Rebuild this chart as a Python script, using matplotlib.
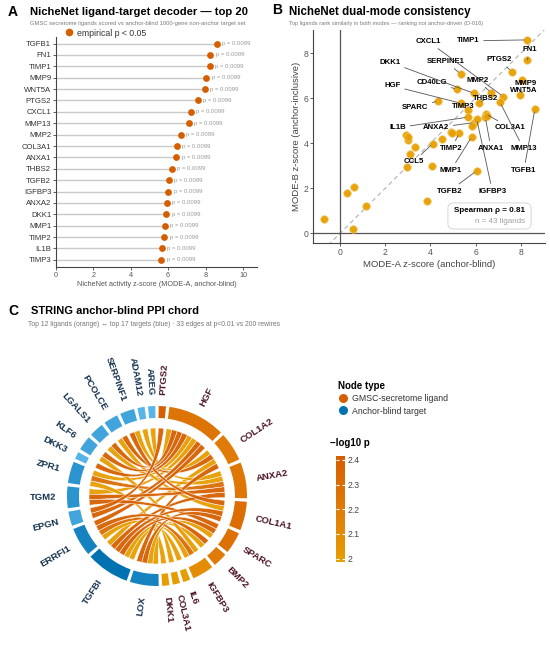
import numpy as np
import matplotlib.pyplot as plt
from matplotlib.lines import Line2D
from matplotlib.patches import Wedge, Polygon, FancyBboxPatch
from matplotlib.colors import LinearSegmentedColormap, Normalize, to_rgb
from matplotlib.cm import ScalarMappable

plt.rcParams['font.family'] = ['Liberation Sans', 'DejaVu Sans']

# ---- panel A data: top 20 ligands (MODE-A z-score, empirical p)
ligands_A = ['TGFB1', 'FN1', 'TIMP1', 'MMP9', 'WNT5A', 'PTGS2', 'CXCL1', 'MMP13', 'MMP2', 'COL3A1',
             'ANXA1', 'THBS2', 'TGFB2', 'IGFBP3', 'ANXA2', 'DKK1', 'MMP1', 'TIMP2', 'IL1B', 'TIMP3']
zscore_A = [8.60, 8.25, 8.22, 8.02, 7.95, 7.58, 7.20, 7.10, 6.67, 6.45,
            6.43, 6.19, 6.03, 6.00, 5.92, 5.88, 5.81, 5.78, 5.65, 5.63]
pval_A = [0.0099, 0.0099, 0.0099, 0.0099, 0.0099, 0.0099, 0.0099, 0.0099, 0.0099, 0.0099,
          0.0099, 0.0099, 0.0099, 0.0099, 0.0099, 0.0099, 0.0099, 0.0099, 0.0099, 0.0099]

# ---- panel B data: 43 ligands, MODE-A vs MODE-B z-score ('' = unlabelled)
names_B = ['TIMP1', 'FN1', 'PTGS2', 'MMP9', 'WNT5A', 'SERPINE1', 'CD40LG', 'CXCL1', 'MMP2', 'DKK1',
           'THBS2', 'HGF', 'SPARC', 'TIMP3', 'COL3A1', 'ANXA1', 'MMP13', 'TGFB1', 'IL1B', 'ANXA2',
           'IGFBP3', 'TIMP2', 'MMP1', 'CCL5', 'TGFB2',
           '', '', '', '', '', '', '', '', '', '', '', '', '', '', '', '', '', '']
modeA_B = [8.26, 8.29, 7.60, 8.04, 7.96, 5.34, 5.19, 7.23, 6.68, 5.92,
           6.15, 5.34, 4.35, 5.65, 6.46, 6.43, 7.08, 8.62, 5.65, 5.93,
           6.05, 5.27, 5.83, 4.10, 6.05,
           2.90, 2.99, 3.32, 3.11, 2.95, 4.09, 4.53, 4.90, 5.82, 3.86,
           0.32, 0.62, 1.15, -0.72, 0.59, 6.50, 4.95, 3.00]
modeB_B = [8.59, 7.70, 7.18, 6.81, 6.15, 7.08, 6.40, 6.07, 6.25, 6.22,
           5.80, 5.78, 5.88, 5.48, 5.30, 5.15, 5.82, 5.51, 5.16, 4.92,
           5.07, 4.44, 4.29, 3.98, 2.78,
           4.35, 4.15, 3.82, 3.53, 2.95, 2.99, 4.19, 4.52, 4.77, 1.45,
           1.78, 2.04, 1.23, 0.64, 0.20, 5.22, 4.45, 4.30]
spearman_rho = 0.81

# ---- panel C data: chord nodes and edges (-log10 p)
ligands_C = ['PTGS2', 'HGF', 'COL1A2', 'ANXA2', 'COL1A1', 'SPARC', 'BMP2', 'IGFBP3', 'IL6', 'COL3A1', 'DKK1']
targets_C = ['AREG', 'ADAM12', 'SERPINF1', 'PCOLCE', 'LGALS1', 'KLF6', 'DKK3', 'ZPR1', 'TGM2', 'EPGN',
             'ERRFI1', 'TGFBI', 'LOX']
edge_src = ['HGF', 'HGF', 'HGF', 'HGF', 'HGF', 'HGF', 'HGF', 'HGF',
            'COL1A2', 'COL1A2', 'COL1A2', 'COL1A2',
            'ANXA2', 'ANXA2', 'ANXA2', 'ANXA2', 'ANXA2',
            'COL1A1', 'COL1A1', 'COL1A1', 'COL1A1',
            'SPARC', 'SPARC', 'SPARC', 'BMP2', 'BMP2',
            'IGFBP3', 'IGFBP3', 'IGFBP3', 'IL6', 'COL3A1', 'DKK1', 'PTGS2']
edge_dst = ['ERRFI1', 'EPGN', 'AREG', 'KLF6', 'ZPR1', 'DKK3', 'TGM2', 'LGALS1',
            'LOX', 'TGFBI', 'PCOLCE', 'SERPINF1',
            'TGM2', 'LGALS1', 'TGFBI', 'ZPR1', 'ADAM12',
            'LOX', 'TGFBI', 'PCOLCE', 'SERPINF1',
            'TGFBI', 'LOX', 'TGM2', 'ERRFI1', 'TGFBI',
            'TGFBI', 'ERRFI1', 'KLF6', 'ERRFI1', 'LOX', 'ZPR1', 'EPGN']
edge_logp = [2.4, 2.4, 2.0, 2.4, 2.0, 2.4, 2.0, 2.4,
             2.4, 2.0, 2.4, 2.0,
             2.4, 2.0, 2.4, 2.3, 2.0,
             2.4, 2.4, 2.0, 2.4,
             2.4, 2.0, 2.4, 2.4, 2.0,
             2.0, 2.3, 2.0, 2.0, 2.0, 2.0, 2.4]

ORANGE = '#D55E00'
AMBER = '#E69F00'
BLUE = '#0072B2'
SKY = '#56B4E9'

W, H = 550, 649
fig = plt.figure(figsize=(5.5, 6.49), dpi=100)


def fx(px):
    return px / W


def fy(py):
    return 1 - py / H


def style_spines(ax):
    for s in ['top', 'right']:
        ax.spines[s].set_visible(False)
    for s in ['left', 'bottom']:
        ax.spines[s].set_color('#444444')
        ax.spines[s].set_linewidth(0.8)


# ================= panel A =================
axA = fig.add_axes([fx(56), fy(266.7), fx(201), 230 / H])
yA = np.arange(len(ligands_A))[::-1]
axA.hlines(yA, 0, zscore_A, color='#C9C9C9', lw=1.0, zorder=1)
axA.scatter(zscore_A, yA, s=24, color=ORANGE, zorder=3, linewidths=0)
for z, yy, p in zip(zscore_A, yA, pval_A):
    axA.text(z + 0.3, yy, f'p = {p:.4f}', fontsize=4.3, color='#9A9A9A', va='center')
axA.set_yticks(yA)
axA.set_yticklabels(ligands_A)
axA.set_xlim(0, 10.75)
axA.set_ylim(-0.6, 19.6)
axA.set_xticks([0, 2, 4, 6, 8, 10])
axA.tick_params(axis='y', labelsize=5.6, length=2, width=0.6, pad=1.5, colors='#444444', labelcolor='#333333')
axA.tick_params(axis='x', labelsize=5.2, length=2, width=0.6, pad=1.5, colors='#444444', labelcolor='#555555')
axA.set_xlabel('NicheNet activity z-score (MODE-A, anchor-blind)', fontsize=5.2, color='#555555', labelpad=2)
style_spines(axA)
leg_handle = Line2D([0], [0], marker='o', ls='none', markerfacecolor=ORANGE, markeredgewidth=0,
                    markersize=5.5, label='empirical p < 0.05')
axA.legend(handles=[leg_handle], loc='center left', bbox_to_anchor=(fx(65), fy(33)),
           bbox_transform=fig.transFigure, frameon=False, fontsize=6.3, handlelength=1.0,
           handletextpad=0.4, borderpad=0, borderaxespad=0, labelcolor='#333333')

fig.text(fx(8), fy(12), 'A', fontsize=10, fontweight='bold', va='center')
fig.text(fx(30), fy(12), 'NicheNet ligand-target decoder — top 20', fontsize=8.15, fontweight='bold', va='center')
fig.text(fx(30), fy(23), 'GMSC secretome ligands scored vs anchor-blind 1000-gene non-anchor target set',
         fontsize=4.2, color='#7A7A7A', va='center')

# ================= panel B =================
axB = fig.add_axes([fx(313.3), fy(243.3), fx(231.7), 213.3 / H])
axB.plot([-1.5, 9.5], [-1.5, 9.5], ls=(0, (4, 3)), color='#B0B0B0', lw=0.8, zorder=1)
axB.axhline(0, color='#555555', lw=0.9, zorder=1)
axB.axvline(0, color='#555555', lw=0.9, zorder=1)
axB.scatter(modeA_B, modeB_B, s=30, color=AMBER, edgecolors='#F7C76A', linewidths=0.5, zorder=3, alpha=0.95)
axB.set_xlim(-1.18, 9.07)
axB.set_ylim(-0.44, 9.03)
axB.set_xticks([0, 2, 4, 6, 8])
axB.set_yticks([0, 2, 4, 6, 8])
axB.tick_params(labelsize=6.2, length=2, width=0.6, pad=1.5, colors='#444444', labelcolor='#555555')
axB.set_xlabel('MODE-A z-score (anchor-blind)', fontsize=6.8, color='#444444', labelpad=2)
axB.set_ylabel('MODE-B z-score (anchor-inclusive)', fontsize=6.8, color='#444444', labelpad=2)
style_spines(axB)

# label placement (text position in data units) for the named ligands
label_pos = {
    'CXCL1': (3.91, 8.52), 'TIMP1': (5.68, 8.55), 'FN1': (8.41, 8.15), 'DKK1': (2.21, 7.60),
    'SERPINE1': (4.67, 7.63), 'PTGS2': (7.05, 7.70), 'MMP2': (6.09, 6.81), 'MMP9': (8.22, 6.67),
    'WNT5A': (8.11, 6.34), 'HGF': (2.32, 6.55), 'CD40LG': (4.06, 6.70), 'THBS2': (6.45, 5.97),
    'SPARC': (3.32, 5.60), 'TIMP3': (5.47, 5.63), 'IL1B': (2.55, 4.69), 'ANXA2': (4.25, 4.69),
    'COL3A1': (7.52, 4.69), 'TIMP2': (4.94, 3.78), 'ANXA1': (6.68, 3.78), 'MMP13': (8.11, 3.78),
    'CCL5': (3.25, 3.18), 'MMP1': (4.91, 2.81), 'TGFB1': (8.14, 2.81), 'TGFB2': (4.84, 1.88),
    'IGFBP3': (6.74, 1.88),
}
for name, xa, yb in zip(names_B, modeA_B, modeB_B):
    if name:
        tx, ty = label_pos[name]
        axB.annotate(name, xy=(xa, yb), xytext=(tx, ty), fontsize=5.6, fontweight='bold',
                     ha='center', va='center', zorder=4,
                     arrowprops=dict(arrowstyle='-', color='#555555', lw=0.6, shrinkA=1, shrinkB=2))

box = FancyBboxPatch((0.581, 0.067), 0.359, 0.122, boxstyle='round,pad=0,rounding_size=0.025',
                     transform=axB.transAxes, facecolor='white', edgecolor='#D0D0D0', lw=0.6, zorder=5)
axB.add_patch(box)
axB.text(0.915, 0.155, f'Spearman ρ = {spearman_rho:.2f}', transform=axB.transAxes, ha='right', va='center',
         fontsize=5.8, fontweight='bold', zorder=6)
axB.text(0.915, 0.102, f'n = {len(names_B)} ligands', transform=axB.transAxes, ha='right', va='center',
         fontsize=5.8, color='#A0A0A0', zorder=6)

fig.text(fx(272), fy(10), 'B', fontsize=10, fontweight='bold', va='center')
fig.text(fx(289), fy(12), 'NicheNet dual-mode consistency', fontsize=8.3, fontweight='bold', va='center')
fig.text(fx(289), fy(23), 'Top ligands rank similarly in both modes — ranking not anchor-driven (D-016)',
         fontsize=4.1, color='#7A7A7A', va='center')

# ================= panel C: chord =================
cmap = LinearSegmentedColormap.from_list('logp', [AMBER, '#E07A08', ORANGE])
norm = Normalize(vmin=1.986, vmax=2.416)

cx, cy = 157, 496
axC = fig.add_axes([fx(cx - 150), fy(cy + 150), fx(300), 300 / H])
axC.set_xlim(-150, 150)
axC.set_ylim(-150, 150)
axC.axis('off')

R_OUT, R_W, R_CH = 90, 12, 68
GAP = 2.2
lig_deg = [edge_src.count(n) for n in ligands_C]
tgt_deg = [edge_dst.count(n) for n in targets_C]
n_edges = len(edge_src)
unit = (360 - GAP * (len(ligands_C) + len(targets_C))) / (2 * n_edges)

# ligands clockwise from the top, targets counter-clockwise from the top
lig_span = {}
a = 90 - GAP / 2
for n, d in zip(ligands_C, lig_deg):
    lig_span[n] = (a, a - d * unit)
    a -= d * unit + GAP
tgt_span = {}
a = 90 + GAP / 2
for n, d in zip(targets_C, tgt_deg):
    tgt_span[n] = (a, a + d * unit)
    a += d * unit + GAP


def pol(r, ang):
    t = np.deg2rad(ang)
    return np.array([r * np.cos(t), r * np.sin(t)])


def arc(r, a1, a2, n=25):
    t = np.deg2rad(np.linspace(a1, a2, n))
    return np.column_stack([r * np.cos(t), r * np.sin(t)])


def bez(p0, p2, n=30):
    s = np.linspace(0, 1, n)[:, None]
    return (1 - s) ** 2 * p0 + s ** 2 * p2


# slot allocation inside each node
lig_slot = {}
for n in ligands_C:
    idx = [i for i in range(n_edges) if edge_src[i] == n]
    idx.sort(key=lambda i: targets_C.index(edge_dst[i]))
    a0 = lig_span[n][0]
    for i in idx:
        lig_slot[i] = (a0, a0 - unit)
        a0 -= unit
tgt_slot = {}
for n in targets_C:
    idx = [i for i in range(n_edges) if edge_dst[i] == n]
    idx.sort(key=lambda i: ligands_C.index(edge_src[i]))
    a0 = tgt_span[n][0]
    for i in idx:
        tgt_slot[i] = (a0, a0 + unit)
        a0 += unit

order = np.argsort(edge_logp)
for i in order:
    a1, a2 = lig_slot[i]
    b1, b2 = tgt_slot[i]
    pts = np.vstack([arc(R_CH, a1, a2), bez(pol(R_CH, a2), pol(R_CH, b2)),
                     arc(R_CH, b2, b1), bez(pol(R_CH, b1), pol(R_CH, a1))])
    axC.add_patch(Polygon(pts, closed=True, facecolor=cmap(norm(edge_logp[i])), edgecolor='white',
                          lw=0.35, alpha=0.95))


def mix(c1, c2, f):
    c1, c2 = np.array(to_rgb(c1)), np.array(to_rgb(c2))
    return tuple(c1 + (c2 - c1) * f)


for n in ligands_C:
    a1, a2 = lig_span[n]
    vals = [edge_logp[i] for i in range(n_edges) if edge_src[i] == n]
    axC.add_patch(Wedge((0, 0), R_OUT, a2, a1, width=R_W, facecolor=cmap(norm(np.mean(vals))),
                        edgecolor='none'))
for n, d in zip(targets_C, tgt_deg):
    a1, a2 = tgt_span[n]
    axC.add_patch(Wedge((0, 0), R_OUT, a1, a2, width=R_W, facecolor=mix(SKY, BLUE, min(1, (d - 1) / 4)),
                        edgecolor='none'))


def node_label(name, a1, a2, color):
    mid = (a1 + a2) / 2
    x, y = pol(R_OUT + 11, mid)
    m = ((mid + 180) % 360) - 180
    if -90 <= m <= 90:
        rot, ha = m, 'left'
    else:
        rot, ha = m - 180 if m > 0 else m + 180, 'right'
    axC.text(x, y, name, rotation=rot, rotation_mode='anchor', ha=ha, va='center',
             fontsize=6.8, fontweight='bold', color=color)


for n in ligands_C:
    node_label(n, *lig_span[n], '#4A1222')
for n in targets_C:
    node_label(n, *tgt_span[n], '#13304F')

fig.text(fx(8), fy(311), 'C', fontsize=10, fontweight='bold', va='center')
fig.text(fx(31), fy(311), 'STRING anchor-blind PPI chord', fontsize=8, fontweight='bold', va='center')
fig.text(fx(28), fy(325),
         f'Top 12 ligands (orange) ↔ top 17 targets (blue) · {n_edges} edges at p<0.01 vs 200 rewires',
         fontsize=4.9, color='#777777', va='center')

# legends
node_handles = [
    Line2D([0], [0], marker='o', ls='none', markerfacecolor=ORANGE, markeredgewidth=0, markersize=6.5,
           label='GMSC-secretome ligand'),
    Line2D([0], [0], marker='o', ls='none', markerfacecolor=BLUE, markeredgewidth=0, markersize=6.5,
           label='Anchor-blind target'),
]
fig.legend(handles=node_handles, title='Node type', loc='upper left', bbox_to_anchor=(fx(334), fy(377)),
           frameon=False, fontsize=6.3, title_fontproperties={'weight': 'bold', 'size': 7},
           alignment='left', handlelength=1.0, handletextpad=0.6, labelspacing=0.35, borderpad=0,
           labelcolor='#333333')

fig.text(fx(330), fy(443), '−log10 p', fontsize=7, fontweight='bold', va='center')
cax = fig.add_axes([fx(336), fy(562), fx(9), 106 / H])
cb = fig.colorbar(ScalarMappable(norm=norm, cmap=cmap), cax=cax)
cb.set_ticks([2.0, 2.1, 2.2, 2.3, 2.4])
cb.set_ticklabels(['2', '2.1', '2.2', '2.3', '2.4'])
cb.outline.set_visible(False)
cax.tick_params(length=2.5, width=0.8, color='white', direction='in', labelsize=6.2, labelcolor='#444444', pad=2,
                left=True, right=True)

fig.savefig('out.png', dpi=100)
